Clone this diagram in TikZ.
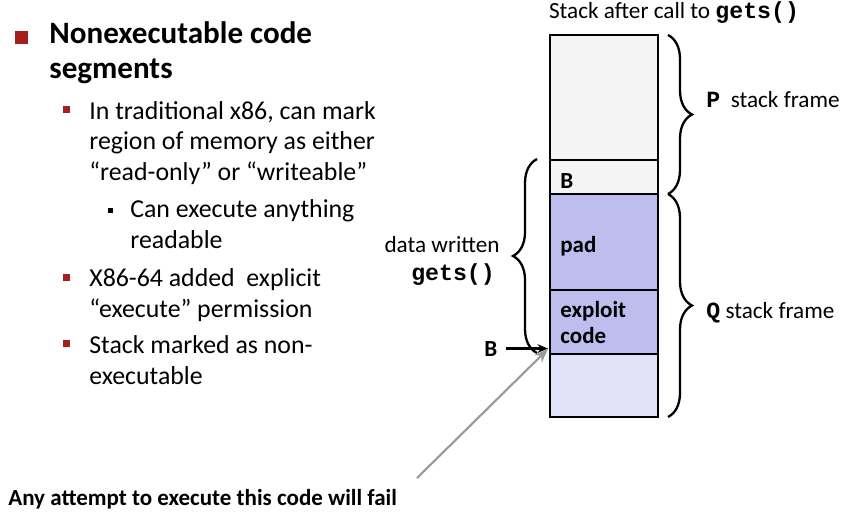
\documentclass[tikz,border=0pt]{standalone}
\usepackage{fontspec}
\setmainfont{Carlito}
\newfontfamily\codefont{Liberation Mono}
\usetikzlibrary{decorations.pathreplacing,arrows.meta}

\definecolor{bulletred}{HTML}{A3201D}
\definecolor{cellgray}{HTML}{F4F4F4}
\definecolor{padblue}{HTML}{BDBDEE}
\definecolor{lowblue}{HTML}{E2E2F8}

\tikzset{
  headtext/.style={font=\fontsize{17.7}{19.8}\selectfont\bfseries, anchor=base west, align=left, inner sep=0pt},
  bodytext/.style={font=\fontsize{14.7}{17.3}\selectfont, anchor=base west, align=left, inner sep=0pt},
  labeltext/.style={font=\fontsize{13.2}{15}\selectfont, anchor=base west, inner sep=0pt},
  celltext/.style={font=\fontsize{13.1}{14.7}\selectfont\bfseries, anchor=base west, align=left, inner sep=0pt},
  cellbox/.style={draw=black, line width=1.4pt},
  stackbrace/.style={decorate, decoration={brace, amplitude=0.48cm}, line width=1.3pt},
  ptrarrow/.style={-{Stealth[length=6pt,width=5pt]}, line width=1.2pt},
  failarrow/.style={-{Stealth[length=8pt,width=6pt]}, line width=1.2pt, gray!80}
}
\newcommand{\code}[1]{{\codefont\bfseries #1}}

\begin{document}
\begin{tikzpicture}[x=0.02cm,y=-0.02cm]
      \useasboundingbox (0,0) rectangle (848,512);
      % bullet list (multi-line nodes sit on their last baseline)
      \fill[bulletred] (15,31) rectangle (28,44);
      \foreach \y in {106,274,340} { \fill[bulletred] (63,\y) rectangle (70,\y+7); }
      \fill[black] (108,208) rectangle (113,213);
      \node[headtext] (heading) at (49,78) {Nonexecutable code\\segments};
      \node[bodytext] (traditional) at (89,180) {In traditional x86, can mark\\region of memory as either\\“read-only” or “writeable”};
      \node[bodytext] (readable) at (130,248) {Can execute anything\\readable};
      \node[bodytext] (permission) at (89,317) {X86-64 added\ \ explicit\\“execute” permission};
      \node[bodytext] (nonexec) at (89,384) {Stack marked as non-\\executable};
      \node[celltext] (fail) at (8,505) {Any attempt to execute this code will fail};

      % stack cells
      \foreach \top/\bot/\col in {35/160/cellgray, 160/194/cellgray, 194/290/padblue, 290/354/padblue, 354/417/lowblue} {
        \filldraw[cellbox, fill=\col] (550,\top) rectangle (658,\bot);
      }
      \node[labeltext, anchor=base] (title) at (674,18) {Stack after call to \code{gets()}};
      \node[celltext] (bcell) at (560,188) {B};
      \node[celltext] (pad) at (560,252) {pad};
      \node[celltext] (exploit) at (560,343) {exploit\\code};

      % frames
      \draw[stackbrace] (668,35) -- (668,194);
      \draw[stackbrace] (668,194) -- (668,417);
      \draw[stackbrace] (537,353) -- (537,159);
      \node[labeltext] (pframe) at (706,107) {\code{P}\ \ stack frame};
      \node[labeltext] (qframe) at (706,318) {\code{Q} stack frame};
      \node[labeltext, anchor=base east] (written) at (500,252) {data written};
      \node[labeltext, anchor=base] (getsname) at (453,280) {\code{gets()}};

      % return address
      \node[celltext] (bptr) at (484,356) {B};
      \coordinate (codestart) at (548,349);
      \coordinate (failfrom) at (417,478);
      \draw[ptrarrow] ([xshift=5pt]bptr.east) -- (bptr.east -| codestart);
      \draw[failarrow] (failfrom) -- (codestart);
\end{tikzpicture}
\end{document}
